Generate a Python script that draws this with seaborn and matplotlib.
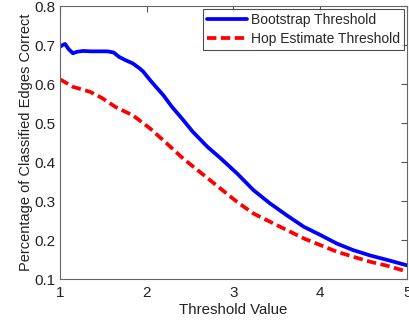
import matplotlib
matplotlib.use("Agg")
import matplotlib.pyplot as plt
import seaborn as sns
import pandas as pd

boot_x = [1.00, 1.03, 1.06, 1.10, 1.15, 1.20, 1.27, 1.35, 1.45, 1.55, 1.62, 1.68, 1.75,
          1.84, 1.92, 1.96, 2.04, 2.11, 2.19, 2.29, 2.42, 2.53, 2.70, 2.85, 3.04, 3.23,
          3.42, 3.61, 3.81, 4.00, 4.19, 4.38, 4.58, 4.77, 5.00]
boot_y = [0.695, 0.700, 0.703, 0.690, 0.679, 0.683, 0.685, 0.684, 0.684, 0.684, 0.681,
          0.670, 0.662, 0.653, 0.640, 0.632, 0.610, 0.592, 0.572, 0.542, 0.508, 0.478,
          0.439, 0.410, 0.371, 0.328, 0.294, 0.264, 0.234, 0.213, 0.191, 0.174, 0.160,
          0.149, 0.135]
hop_x = [1.00, 1.02, 1.15, 1.35, 1.48, 1.65, 1.84, 2.04, 2.23, 2.42, 2.56, 2.85, 3.04,
         3.23, 3.42, 3.61, 3.81, 4.00, 4.19, 4.38, 4.58, 4.77, 5.00]
hop_y = [0.612, 0.610, 0.593, 0.580, 0.565, 0.540, 0.520, 0.486, 0.448, 0.409, 0.384,
         0.332, 0.298, 0.268, 0.247, 0.226, 0.204, 0.187, 0.170, 0.157, 0.144, 0.134, 0.119]
series_names = ["Bootstrap Threshold", "Hop Estimate Threshold"]
x_ticks = [1, 2, 3, 4, 5]
y_ticks = [0.1, 0.2, 0.3, 0.4, 0.5, 0.6, 0.7, 0.8]

df = pd.concat([
    pd.DataFrame({"x": boot_x, "y": boot_y, "series": series_names[0]}),
    pd.DataFrame({"x": hop_x, "y": hop_y, "series": series_names[1]}),
])

sns.set_style("white")
plt.rcParams["font.family"] = ["Liberation Sans", "DejaVu Sans"]

fig = plt.figure(figsize=(4.10, 3.22), dpi=100)
ax = fig.add_axes([0.146, 0.1335, 0.847, 0.8475])

lw = 2.7
sns.lineplot(data=df, x="x", y="y", hue="series", style="series",
             palette={series_names[0]: "#0000ff", series_names[1]: "#ff0000"},
             dashes={series_names[0]: "", series_names[1]: (2.5, 1.2)},
             linewidth=lw, ax=ax, sort=False, estimator=None)

ax.set_xlim(1, 5)
ax.set_ylim(0.1, 0.8)
ax.set_xticks(x_ticks)
ax.set_xticklabels([str(t) for t in x_ticks])
ax.set_yticks(y_ticks)
ax.set_yticklabels([f"{t:.1f}" for t in y_ticks])
ax.tick_params(direction="in", length=4, width=0.8, top=True, right=True,
               labelsize=11, colors="#555555", labelcolor="#222222", pad=3)
ax.tick_params(axis="x", pad=5)
for s in ax.spines.values():
    s.set_visible(True)
    s.set_color("#666666")
    s.set_linewidth(0.8)
ax.set_xlabel("Threshold Value", fontsize=10.8, color="#222222", labelpad=2)
ax.set_ylabel("Percentage of Classified Edges Correct", fontsize=10.5, color="#222222", labelpad=1)

leg = ax.legend(loc="upper right", fontsize=10, frameon=True, fancybox=False,
                edgecolor="#222222", handlelength=2.9, handletextpad=0.3,
                borderpad=0.3, labelspacing=0.35, borderaxespad=0.2)
leg.get_frame().set_linewidth(0.8)
for line in leg.get_lines():
    line.set_linewidth(lw)

fig.savefig("out.png", dpi=100)
